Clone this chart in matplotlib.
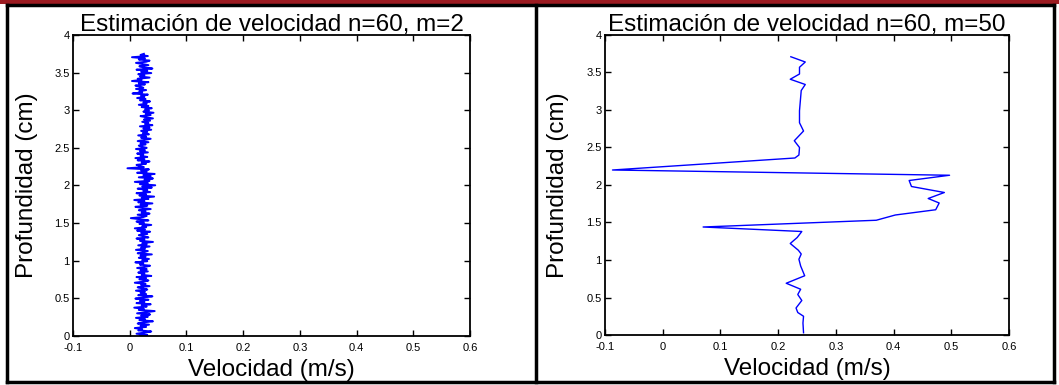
import numpy as np
import matplotlib
matplotlib.use("Agg")
import matplotlib.pyplot as plt
from matplotlib.lines import Line2D
from matplotlib.patches import Rectangle

plt.rcParams["font.family"] = ["Liberation Sans", "DejaVu Sans"]

# ── data ──────────────────────────────────────────────
# m=2 estimate: velocity samples (m/s), from depth 0 up to 3.75 cm
vel_m2 = [
    0.018, 0.031, 0.012, 0.026, 0.038, 0.015, 0.022, 0.009, 0.029, 0.019,
    0.034, 0.014, 0.024, 0.041, 0.017, 0.027, 0.011, 0.032, 0.020, 0.036,
    0.013, 0.028, 0.044, 0.016, 0.025, 0.008, 0.030, 0.021, 0.037, 0.012,
    0.026, 0.018, 0.033, 0.010, 0.024, 0.040, 0.015, 0.029, 0.019, 0.027,
    0.011, 0.031, 0.022, 0.014, 0.035, 0.020, 0.028, 0.009, 0.025, 0.033,
    0.017, 0.029, 0.012, 0.038, 0.021, 0.026, 0.015, 0.032, 0.019, 0.030,
    0.013, 0.027, 0.036, 0.018, 0.024, 0.010, 0.031, 0.022, 0.034, 0.016,
    0.028, 0.019, 0.039, 0.014, 0.025, 0.032, 0.011, 0.027, 0.020, 0.035,
    0.015, 0.030, 0.022, 0.041, 0.018, 0.026, 0.012, 0.033, 0.024, 0.016,
    0.031, 0.020, 0.036, 0.013, 0.027, 0.009, 0.029, 0.022, 0.038, 0.017,
    0.025, 0.012, 0.033, 0.019, 0.002, 0.024, 0.030, 0.014, 0.035, 0.021,
    0.028, 0.016, 0.037, 0.022, 0.010, 0.031, 0.019, 0.040, 0.015, 0.026,
    0.008, 0.033, 0.021, 0.043, 0.017, 0.029, 0.012, 0.036, 0.024, 0.031,
    0.014, 0.039, 0.022, 0.045, 0.018, 0.032, 0.009, 0.035, 0.026, 0.041,
    0.016, 0.037, 0.024, 0.044, 0.013, 0.030, 0.020, 0.034, -0.004, 0.025,
    0.018, 0.012, 0.029, 0.021, 0.035, 0.014, 0.026, 0.010, 0.031, 0.019,
    0.024, 0.013, 0.032, 0.018, 0.027, 0.011, 0.030, 0.021, 0.016, 0.028,
    0.019, 0.033, 0.014, 0.026, 0.037, 0.020, 0.029, 0.015, 0.034, 0.023,
    0.031, 0.020, 0.038, 0.024, 0.035, 0.018, 0.040, 0.027, 0.033, 0.022,
    0.036, 0.025, 0.041, 0.029, 0.019, 0.037, 0.028, 0.042, 0.024, 0.034,
    0.027, 0.039, 0.021, 0.033, 0.016, 0.030, 0.024, 0.036, 0.018, 0.028,
    0.013, 0.026, 0.020, 0.032, 0.005, 0.022, 0.017, 0.029, 0.011, 0.024,
    0.019, 0.010, 0.027, 0.016, 0.033, 0.004, 0.021, 0.014, 0.035, 0.018,
    0.026, 0.015, 0.038, 0.020, 0.031, 0.012, 0.040, 0.024, 0.017, 0.033,
    0.022, 0.011, 0.029, 0.035, 0.016, 0.027, 0.004, 0.032, 0.019, 0.025,
]
depth_m2 = np.linspace(0.0, 3.75, len(vel_m2))

# m=50 estimate: depth (cm) and velocity (m/s), read top to bottom
depth_m50 = [3.71, 3.64, 3.57, 3.48, 3.41, 3.34, 3.26, 2.99, 2.83, 2.72,
             2.59, 2.50, 2.40, 2.36, 2.20, 2.13, 2.06, 1.98, 1.90, 1.82,
             1.76, 1.67, 1.60, 1.53, 1.44, 1.38, 1.30, 1.22, 1.13, 1.08,
             1.01, 0.92, 0.79, 0.69, 0.61, 0.54, 0.46, 0.36, 0.30, 0.25,
             0.16, 0.03]
vel_m50 = [0.222, 0.247, 0.237, 0.237, 0.221, 0.247, 0.240, 0.237, 0.237, 0.244,
           0.228, 0.237, 0.236, 0.229, -0.087, 0.497, 0.427, 0.431, 0.488, 0.460,
           0.479, 0.473, 0.403, 0.370, 0.070, 0.241, 0.233, 0.221, 0.235, 0.240,
           0.236, 0.239, 0.246, 0.214, 0.239, 0.234, 0.241, 0.231, 0.234, 0.244,
           0.243, 0.244]

x_ticks = [-0.1, 0, 0.1, 0.2, 0.3, 0.4, 0.5, 0.6]
x_labels = ["-0.1", "0", "0.1", "0.2", "0.3", "0.4", "0.5", "0.6"]
y_ticks = [0, 0.5, 1, 1.5, 2, 2.5, 3, 3.5, 4]
y_labels = ["0", "0.5", "1", "1.5", "2", "2.5", "3", "3.5", "4"]

titles = ["Estimación de velocidad n=60, m=2",
          "Estimación de velocidad n=60, m=50"]

# ── figure ────────────────────────────────────────────
W, H = 1059, 385
fig = plt.figure(figsize=(W / 100, H / 100), dpi=100, facecolor="white")

def px_axes(x0, x1, ytop, ybot):
    return [x0 / W, 1 - ybot / H, (x1 - x0) / W, (ybot - ytop) / H]

ax1 = fig.add_axes(px_axes(73, 470, 35, 336))
ax2 = fig.add_axes(px_axes(605, 1009, 35, 335))

ax1.plot(vel_m2, depth_m2, color="#0000ff", lw=1.4)
ax2.plot(vel_m50, depth_m50, color="#0000ff", lw=1.0)

for ax, t in zip([ax1, ax2], titles):
    ax.set_xlim(-0.1, 0.6)
    ax.set_ylim(0, 4)
    ax.set_xticks(x_ticks)
    ax.set_xticklabels(x_labels)
    ax.set_yticks(y_ticks)
    ax.set_yticklabels(y_labels)
    ax.tick_params(direction="in", length=4, width=1, top=True, right=True,
                   labelsize=8, colors="black")
    ax.tick_params(axis="x", pad=5)
    ax.tick_params(axis="y", pad=2.5)
    for sp in ax.spines.values():
        sp.set_linewidth(1.3)
    ax.set_title(t, fontsize=17.5, pad=3)
    ax.set_xlabel("Velocidad (m/s)", fontsize=17.5)
    ax.set_ylabel("Profundidad (cm)", fontsize=17.5)
    ax.yaxis.set_label_coords(-0.088, 0.5)
    ax.xaxis.set_label_coords(0.5, -0.075)

# ── page frame: red bar on top, black boxes round each panel ──
fig.add_artist(Rectangle((0, 1 - 4 / H), 1, 4 / H, transform=fig.transFigure,
                         facecolor="#9b1b21", edgecolor="none"))
frame_kw = dict(transform=fig.transFigure, color="black", lw=2.5)
fig.add_artist(Line2D([7 / W, 1054 / W], [1 - 5 / H, 1 - 5 / H], **frame_kw))
fig.add_artist(Line2D([7 / W, 1054 / W], [1 - 382 / H, 1 - 382 / H], **frame_kw))
for xp in [7, 536, 1054]:
    fig.add_artist(Line2D([xp / W, xp / W], [1 - 5 / H, 1 - 382 / H], **frame_kw))

fig.savefig("out.png", dpi=100, facecolor="white")
